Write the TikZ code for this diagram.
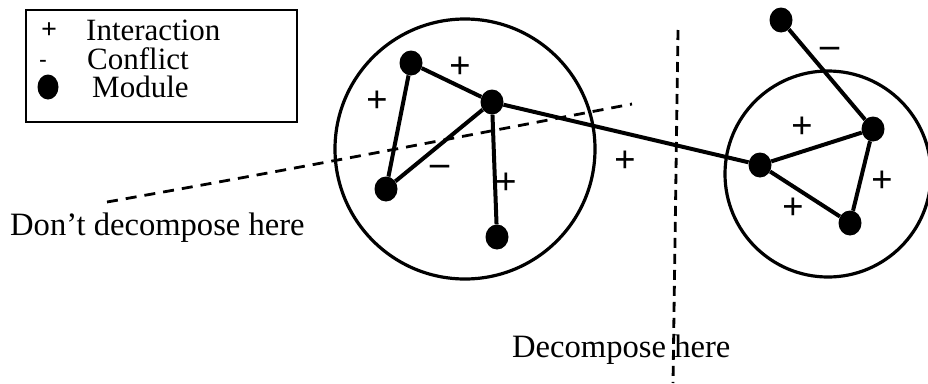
\documentclass[tikz,border=0pt]{standalone}
\usepackage{fontspec}
\setmainfont{Liberation Serif}
\usetikzlibrary{shapes.geometric}
\begin{document}
\begin{tikzpicture}[x=1pt,y=-1pt,
  module/.style={ellipse,fill=black,inner sep=0pt,minimum width=23pt,minimum height=25pt},
  edge/.style={line width=4pt},
  ring/.style={line width=3.2pt},
  cut/.style={line width=2.8pt,dash pattern=on 11pt off 8pt},
  lbl/.style={font=\fontsize{32.6}{32.6}\selectfont,anchor=base west,inner sep=0pt},
  sign/.style={font=\fontsize{38}{38}\selectfont\bfseries,inner sep=0pt},
  leg/.style={font=\fontsize{31}{31}\selectfont,anchor=base west,inner sep=0pt}]
\useasboundingbox (0,0) rectangle (928,383);

% legend
\node[draw,line width=2pt,minimum width=271pt,minimum height=112pt,inner sep=0pt] (legend) at (161.5,66) {};
\node[sign,font=\fontsize{28}{28}\selectfont\bfseries] (lplus) at (49,31) {+};
\node[sign,font=\fontsize{22}{22}\selectfont\bfseries] (lminus) at (43,63) {-};
\node[module,minimum width=21pt,minimum height=25pt] (lmod) at (48,87) {};
\node[leg] (tint) at (86,40) {Interaction};
\node[leg] (tcon) at (87,69) {Conflict};
\node[leg] (tmod) at (92,97) {Module};

% clusters
\node[circle,draw,ring,minimum size=260pt,inner sep=0pt] (left) at (465,149) {};
\node[circle,draw,ring,minimum size=206pt,inner sep=0pt] (right) at (828,174) {};

% cut lines
\coordinate (d1) at (107,202);
\coordinate (d2) at (632,104);
\draw[cut] (d1) .. controls (300,168) and (480,133) .. (d2);
\coordinate (v1) at (678,30);
\coordinate (v2) at (673,383);
\draw[cut,dash pattern=on 10pt off 6pt] (v1) -- (v2);

% modules
\node[module] (A) at (411,63) {};
\node[module] (B) at (492,102) {};
\node[module] (C) at (386,189) {};
\node[module] (D) at (497,237) {};
\node[module] (E) at (760,165) {};
\node[module] (F) at (873,129) {};
\node[module] (G) at (850,223) {};
\node[module] (H) at (781,20) {};

% connectors
\draw[edge] (A) -- (B);
\draw[edge] (A) -- (C);
\draw[edge] (B) -- (C);
\draw[edge] (B) -- (D);
\draw[edge] (B) -- (E);
\draw[edge] (H) -- (F);
\draw[edge] (E) -- (F);
\draw[edge] (E) -- (G);
\draw[edge] (F) -- (G);

% signs
\node[sign] (s1) at (460,68) {+};
\node[sign] (s2) at (377,102) {+};
\node[sign] (s3) at (440,170) {–};
\node[sign] (s4) at (506,184) {+};
\node[sign] (s5) at (625,162) {+};
\node[sign] (s6) at (830,52) {–};
\node[sign] (s7) at (802,128) {+};
\node[sign] (s8) at (882,182) {+};
\node[sign] (s9) at (793,209) {+};

% labels
\node[lbl] (dont) at (10,235) {Don’t decompose here};
\node[lbl] (dec) at (512,357) {Decompose here};
\end{tikzpicture}
\end{document}
